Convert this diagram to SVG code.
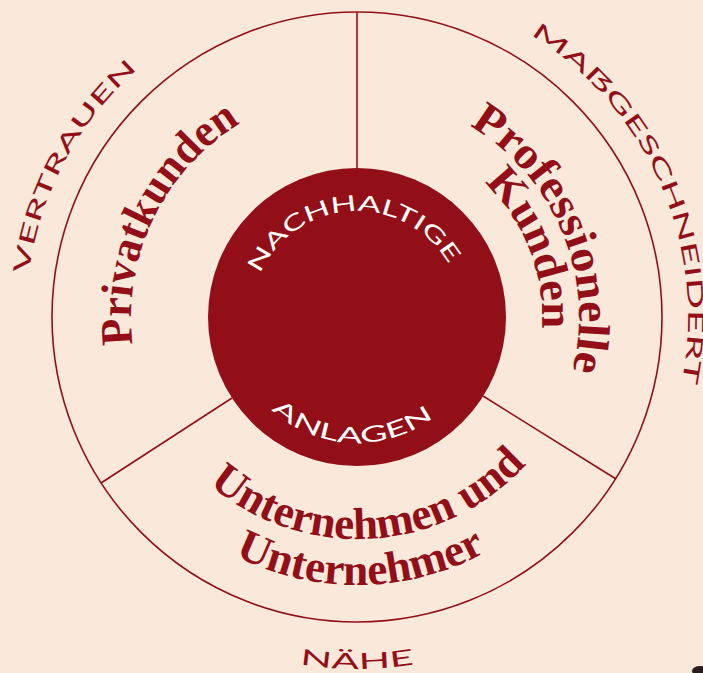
<svg xmlns="http://www.w3.org/2000/svg" width="703" height="673" viewBox="0 0 703 673">
  <style>
    .bg { fill: #fae9db; }
    .ring { fill: none; stroke: #930f17; stroke-width: 1.6; }
    .divider { stroke: #930f17; stroke-width: 1.6; fill: none; }
    .hub { fill: #930f17; }
    .value { font-family: Lato, "Liberation Sans", sans-serif; font-weight: 400; font-size: 22px; fill: #930f17; }
    .core { font-family: Lato, "Liberation Sans", sans-serif; font-weight: 400; font-size: 22px; fill: #ffffff; }
    .segment { font-family: "Liberation Serif", "DejaVu Serif", serif; font-weight: 700; font-size: 45px; fill: #930f17; }
  </style>
  <defs>
    <!-- baselines, all centred on the hub at (357,317) -->
    <path id="arcVertrauen" d="M50.1 441 A331 331 0 0 1 288.2 -6.8"/>
    <path id="arcMass" d="M394.5 -11.9 A331 331 0 0 1 623.1 513.9"/>
    <path id="arcNaehe" d="M181 621.8 A352 352 0 0 0 533 621.8"/>
    <path id="arcNach" d="M251 317 A106 106 0 0 1 462.4 305.9"/>
    <path id="arcAnlagen" d="M236.7 354.5 A126 126 0 0 0 473.2 365.6"/>
    <path id="arcPrivat" d="M240.6 510.7 A226 226 0 0 1 438 106"/>
    <path id="arcProf" d="M308 100.5 A222 222 0 0 1 477.1 503.7"/>
    <path id="arcKunden" d="M320.1 135.7 A185 185 0 0 1 453.7 474.7"/>
    <path id="arcUnt1" d="M136.1 365.9 A228 228 0 0 0 583.8 337.9"/>
    <path id="arcUnt2" d="M93.7 367.2 A268 268 0 0 0 621.5 359.8"/>
  </defs>

  <rect class="bg" x="0" y="0" width="703" height="673"/>

  <!-- outer ring -->
  <g id="outer-ring">
    <circle class="ring" cx="357" cy="317" r="305"/>
  </g>

  <!-- dividers between the three client segments -->
  <g id="connectors">
    <line class="divider" x1="357" y1="12" x2="357" y2="168"/>
    <line class="divider" x1="232" y1="398" x2="101" y2="483"/>
    <line class="divider" x1="483" y1="396" x2="616" y2="479"/>
  </g>

  <!-- centre -->
  <g id="hub">
    <circle class="hub" cx="357" cy="317" r="149"/>
    <text class="core"><textPath href="#arcNach" startOffset="50%" text-anchor="middle" textLength="233" lengthAdjust="spacingAndGlyphs">NACHHALTIGE</textPath></text>
    <text class="core"><textPath href="#arcAnlagen" startOffset="50%" text-anchor="middle" textLength="176" lengthAdjust="spacingAndGlyphs">ANLAGEN</textPath></text>
  </g>

  <g id="segment-privat">
    <text class="segment"><textPath href="#arcPrivat" startOffset="50%" text-anchor="middle" textLength="260" lengthAdjust="spacingAndGlyphs">Privatkunden</textPath></text>
  </g>

  <g id="segment-professionell">
    <text class="segment"><textPath href="#arcProf" startOffset="50%" text-anchor="middle" textLength="285" lengthAdjust="spacingAndGlyphs">Professionelle</textPath></text>
    <text class="segment"><textPath href="#arcKunden" startOffset="50%" text-anchor="middle" textLength="162" lengthAdjust="spacingAndGlyphs">Kunden</textPath></text>
  </g>

  <g id="segment-unternehmen">
    <text class="segment"><textPath href="#arcUnt1" startOffset="50%" text-anchor="middle" textLength="352" lengthAdjust="spacingAndGlyphs">Unternehmen und</textPath></text>
    <text class="segment"><textPath href="#arcUnt2" startOffset="50%" text-anchor="middle" textLength="262" lengthAdjust="spacingAndGlyphs">Unternehmer</textPath></text>
  </g>

  <!-- values around the ring -->
  <g id="value-vertrauen">
    <text class="value"><textPath href="#arcVertrauen" startOffset="50%" text-anchor="middle" textLength="237" lengthAdjust="spacingAndGlyphs">VERTRAUEN</textPath></text>
  </g>
  <g id="value-massgeschneidert">
    <text class="value"><textPath href="#arcMass" startOffset="50%" text-anchor="middle" textLength="404" lengthAdjust="spacingAndGlyphs">MAẞGESCHNEIDERT</textPath></text>
  </g>
  <g id="value-naehe">
    <text class="value"><textPath href="#arcNaehe" startOffset="50%" text-anchor="middle" textLength="115" lengthAdjust="spacingAndGlyphs">NÄHE</textPath></text>
  </g>

  <!-- small dark blot in the lower right corner -->
  <ellipse cx="700" cy="671" rx="8" ry="5" fill="#2a1c1c"/>
</svg>
